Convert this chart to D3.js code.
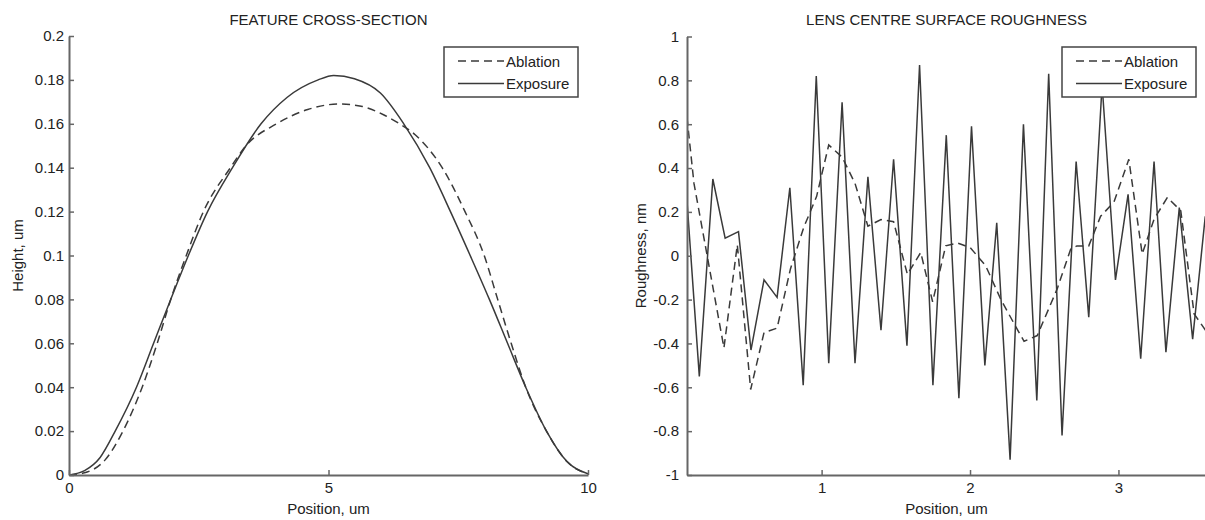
<!DOCTYPE html>
<html>
<head>
<meta charset="utf-8">
<script src="https://cdn.jsdelivr.net/npm/d3@7"></script>
<style>
  html, body { margin: 0; padding: 0; background: #fff; }
  svg { display: block; }
</style>
</head>
<body>
<div id="chart"></div>
<script>
// ── Data: feature cross-section (left) ──────────
const SERIES = ["Ablation", "Exposure"];

const PROFILE_ABL_X = [0, 0.3, 0.7, 1.04, 1.41, 1.70, 1.96, 2.26, 2.59, 3.11, 3.41, 4.0, 4.6, 5.19,
  5.63, 6.07, 6.37, 6.67, 7.19, 7.63, 8.0, 8.26, 8.52, 8.80, 9.20, 9.6, 10];
const PROFILE_ABL_Y = [0, 0.001, 0.007, 0.02, 0.04, 0.06, 0.08, 0.10, 0.12, 0.14, 0.15, 0.16, 0.1665, 0.169,
  0.168, 0.164, 0.16, 0.155, 0.14, 0.12, 0.10, 0.08, 0.06, 0.04, 0.02, 0.006, 0.0005];

const PROFILE_EXP_X = [0, 0.3, 0.6, 0.89, 1.30, 1.63, 1.96, 2.30, 2.67, 3.15, 3.70, 4.2, 4.8, 5.1,
  5.5, 6.0, 6.45, 6.95, 7.35, 7.73, 8.10, 8.45, 8.80, 9.20, 9.6, 10];
const PROFILE_EXP_Y = [0, 0.002, 0.008, 0.02, 0.04, 0.06, 0.08, 0.10, 0.12, 0.14, 0.16, 0.172, 0.18, 0.182,
  0.1805, 0.174, 0.16, 0.14, 0.12, 0.10, 0.08, 0.06, 0.04, 0.02, 0.006, 0.0005];

const HEIGHT_TICKS = [0, 0.02, 0.04, 0.06, 0.08, 0.1, 0.12, 0.14, 0.16, 0.18, 0.2];
const PROFILE_POS_TICKS = [0, 5, 10];

// ── Data: lens centre roughness (right) ─────────
const ROUGH_ABL_X = [0.093, 0.14, 0.342, 0.432, 0.522, 0.612, 0.70, 0.79, 0.88, 0.966, 1.048, 1.138,
  1.225, 1.312, 1.40, 1.485, 1.578, 1.668, 1.748, 1.836, 1.915, 2.0, 2.105, 2.206, 2.31, 2.364, 2.453,
  2.588, 2.678, 2.72, 2.80, 2.88, 2.97, 3.07, 3.16, 3.24, 3.33, 3.42, 3.51, 3.587];
const ROUGH_ABL_Y = [0.63, 0.33, -0.42, 0.05, -0.61, -0.35, -0.33, -0.06, 0.13, 0.27, 0.505, 0.45,
  0.33, 0.135, 0.165, 0.155, -0.085, 0.015, -0.21, 0.045, 0.058, 0.038, -0.045, -0.197, -0.326, -0.39, -0.364,
  -0.15, 0.03, 0.045, 0.045, 0.18, 0.245, 0.44, 0.008, 0.167, 0.266, 0.205, -0.265, -0.34];

const ROUGH_EXP_X = [0.093, 0.176, 0.267, 0.35, 0.44, 0.524, 0.612, 0.70, 0.786, 0.876, 0.964, 1.048,
  1.138, 1.225, 1.312, 1.40, 1.485, 1.575, 1.66, 1.75, 1.84, 1.925, 2.01, 2.10, 2.18, 2.27, 2.36, 2.45,
  2.53, 2.62, 2.715, 2.80, 2.89, 2.98, 3.065, 3.15, 3.24, 3.32, 3.41, 3.50, 3.585];
const ROUGH_EXP_Y = [0.25, -0.55, 0.35, 0.08, 0.11, -0.43, -0.11, -0.19, 0.31, -0.59, 0.82, -0.49,
  0.70, -0.49, 0.36, -0.34, 0.44, -0.41, 0.87, -0.59, 0.55, -0.65, 0.59, -0.50, 0.15, -0.93, 0.60, -0.66,
  0.83, -0.82, 0.43, -0.28, 0.78, -0.11, 0.28, -0.47, 0.43, -0.44, 0.22, -0.38, 0.18];

const ROUGH_TICKS = [-1, -0.8, -0.6, -0.4, -0.2, 0, 0.2, 0.4, 0.6, 0.8, 1];
const ROUGH_POS_TICKS = [1, 2, 3];

(function () {

  const W = 1205, H = 520;
  const FONT = "'Liberation Sans', Arial, sans-serif";
  const TEXT = "#222";
  const AXIS = "#666";
  const LINE = "#3a3a3a";
  const DASH = "8,5";

  const zip = (xs, ys) => xs.map((x, i) => ({ x: x, y: ys[i] }));

  const svg = d3.select("#chart").append("svg")
    .attr("width", W).attr("height", H);

  // ── One MATLAB-style panel ───────────────────
  function panel(cfg) {
    const x = d3.scaleLinear().domain(cfg.xDomain).range([cfg.left, cfg.right]);
    const y = d3.scaleLinear().domain(cfg.yDomain).range([cfg.bottom, cfg.top]);

    const clipId = "clip-" + cfg.id;
    svg.append("clipPath").attr("id", clipId)
      .append("rect")
      .attr("x", cfg.left).attr("y", cfg.top - 2)
      .attr("width", cfg.right - cfg.left).attr("height", cfg.bottom - cfg.top + 2);

    const line = d3.line().x(d => x(d.x)).y(d => y(d.y)).curve(cfg.curve);

    const plot = svg.append("g").attr("clip-path", `url(#${clipId})`);
    cfg.series.forEach(s => {
      plot.append("path")
        .datum(s.data)
        .attr("fill", "none")
        .attr("stroke", LINE)
        .attr("stroke-width", 1.5)
        .attr("stroke-dasharray", s.dashed ? DASH : null)
        .attr("stroke-linejoin", "miter")
        .attr("d", line);
    });

    // Y axis (ticks point inwards)
    const yAxis = svg.append("g")
      .attr("transform", `translate(${cfg.left},0)`)
      .call(d3.axisLeft(y).tickValues(cfg.yTicks)
        .tickFormat(d => String(+d.toFixed(2)))
        .tickSizeInner(-5).tickSizeOuter(0).tickPadding(cfg.yPad));
    yAxis.select(".domain").attr("stroke", AXIS).attr("stroke-width", 2);
    yAxis.selectAll(".tick line").attr("stroke", AXIS).attr("stroke-width", 1.5);
    yAxis.selectAll("text")
      .attr("font-family", FONT).attr("font-size", "15px").attr("fill", TEXT);

    // X axis
    const xAxis = svg.append("g")
      .attr("transform", `translate(0,${cfg.bottom})`)
      .call(d3.axisBottom(x).tickValues(cfg.xTicks)
        .tickFormat(d3.format("d"))
        .tickSizeInner(-5).tickSizeOuter(0).tickPadding(7));
    xAxis.select(".domain").attr("stroke", AXIS).attr("stroke-width", 2);
    xAxis.selectAll(".tick line").attr("stroke", AXIS).attr("stroke-width", 1.5);
    xAxis.selectAll("text")
      .attr("font-family", FONT).attr("font-size", "15px").attr("fill", TEXT);

    const cx = (cfg.left + cfg.right) / 2;

    svg.append("text")
      .attr("x", cx).attr("y", 25)
      .attr("text-anchor", "middle")
      .attr("font-family", FONT).attr("font-size", "15px").attr("fill", TEXT)
      .text(cfg.title);

    svg.append("text")
      .attr("x", cx).attr("y", 514)
      .attr("text-anchor", "middle")
      .attr("font-family", FONT).attr("font-size", "15px").attr("fill", TEXT)
      .text(cfg.xLabel);

    svg.append("text")
      .attr("transform", `translate(${cfg.yLabelX},${(cfg.top + cfg.bottom) / 2}) rotate(-90)`)
      .attr("text-anchor", "middle")
      .attr("dominant-baseline", "central")
      .attr("font-family", FONT).attr("font-size", "15px").attr("fill", TEXT)
      .text(cfg.yLabel);

    // ── Legend ──────────────────────────────────
    const lg = svg.append("g").attr("transform", `translate(${cfg.legendX},47)`);
    lg.append("rect")
      .attr("x", 0).attr("y", 0).attr("width", 134).attr("height", 50)
      .attr("fill", "#fff").attr("stroke", "#444").attr("stroke-width", 1.5);

    cfg.series.forEach((s, i) => {
      const ly = 14 + i * 22.5;
      lg.append("line")
        .attr("x1", 14).attr("x2", 60)
        .attr("y1", ly).attr("y2", ly)
        .attr("stroke", LINE).attr("stroke-width", 1.5)
        .attr("stroke-dasharray", s.dashed ? DASH : null);
      lg.append("text")
        .attr("x", 62).attr("y", ly + 5.5)
        .attr("font-family", FONT).attr("font-size", "15px").attr("fill", TEXT)
        .text(s.name);
    });
  }

  panel({
    id: "profile",
    left: 69, right: 588, top: 36, bottom: 475,
    xDomain: [0, 10], yDomain: [0, 0.2],
    xTicks: PROFILE_POS_TICKS, yTicks: HEIGHT_TICKS, yPad: 5,
    curve: d3.curveMonotoneX,
    title: "FEATURE CROSS-SECTION",
    xLabel: "Position, um", yLabel: "Height, um", yLabelX: 17,
    legendX: 444,
    series: [
      { name: SERIES[0], dashed: true,  data: zip(PROFILE_ABL_X, PROFILE_ABL_Y) },
      { name: SERIES[1], dashed: false, data: zip(PROFILE_EXP_X, PROFILE_EXP_Y) }
    ]
  });

  panel({
    id: "rough",
    left: 687, right: 1206, top: 36.5, bottom: 475,
    xDomain: [0.093, 3.59], yDomain: [-1, 1],
    xTicks: ROUGH_POS_TICKS, yTicks: ROUGH_TICKS, yPad: 8,
    curve: d3.curveLinear,
    title: "LENS CENTRE SURFACE ROUGHNESS",
    xLabel: "Position, um", yLabel: "Roughness, nm", yLabelX: 640,
    legendX: 1062,
    series: [
      { name: SERIES[0], dashed: true,  data: zip(ROUGH_ABL_X, ROUGH_ABL_Y) },
      { name: SERIES[1], dashed: false, data: zip(ROUGH_EXP_X, ROUGH_EXP_Y) }
    ]
  });

})();
</script>
</body>
</html>
